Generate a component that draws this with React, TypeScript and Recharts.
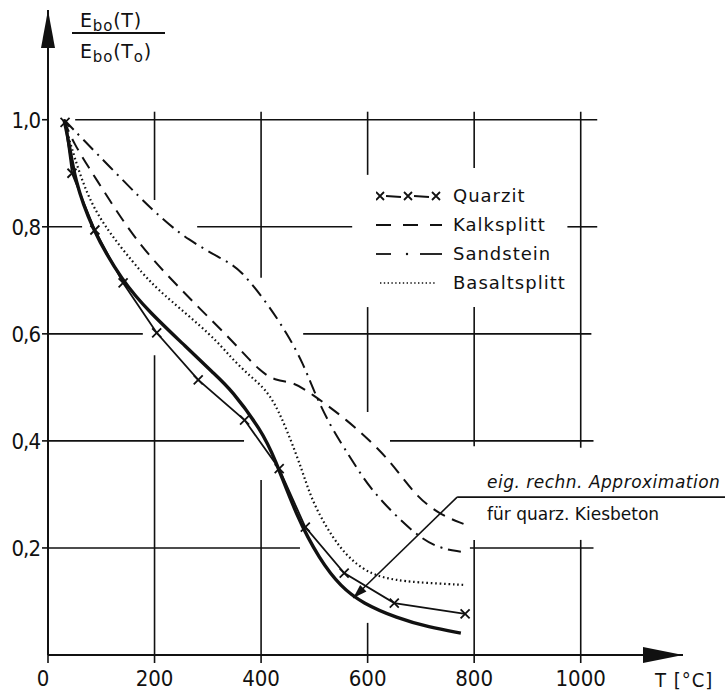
import React from 'react';
import { LineChart, Line, XAxis, YAxis, ReferenceLine, ReferenceDot, Legend } from 'recharts';

const FONT = '"DejaVu Sans", "Liberation Sans", sans-serif';
const FONT_NARROW = '"DejaVu Sans Condensed", "Liberation Sans Narrow", "DejaVu Sans", sans-serif';
const INK = '#111';

// temperature T [°C] and E_bo(T)/E_bo(T0) for each aggregate
const approxT = [30, 40, 50, 80, 140, 192, 260, 310, 345, 400, 425, 467, 510, 550, 590, 655, 715, 775];
const approxE = [1.0, 0.955, 0.89, 0.8, 0.697, 0.639, 0.575, 0.527, 0.495, 0.42, 0.37, 0.258, 0.178, 0.127, 0.097, 0.069, 0.052, 0.041];

const quarzT = [32, 45, 88, 141, 204, 282, 369, 434, 483, 556, 650, 783];
const quarzE = [0.995, 0.9, 0.794, 0.695, 0.602, 0.514, 0.439, 0.348, 0.239, 0.153, 0.097, 0.077];

const kalkT = [30, 47, 88, 160, 223, 285, 348, 400, 430, 460, 492, 561, 623, 655, 693, 736, 780];
const kalkE = [1.0, 0.957, 0.893, 0.78, 0.71, 0.647, 0.585, 0.527, 0.512, 0.51, 0.49, 0.44, 0.383, 0.345, 0.295, 0.262, 0.245];

const sandT = [30, 66, 116, 173, 210, 261, 336, 361, 411, 449, 479, 498, 530, 567, 590, 623, 686, 730, 775];
const sandE = [1.0, 0.963, 0.912, 0.854, 0.819, 0.776, 0.735, 0.72, 0.658, 0.6, 0.545, 0.495, 0.427, 0.37, 0.333, 0.29, 0.228, 0.2, 0.193];

const basaltT = [30, 41, 73, 111, 160, 192, 223, 310, 342, 380, 417, 449, 479, 498, 548, 592, 623, 655, 686, 780];
const basaltE = [1.0, 0.957, 0.857, 0.794, 0.733, 0.697, 0.668, 0.595, 0.557, 0.52, 0.49, 0.42, 0.34, 0.28, 0.196, 0.159, 0.146, 0.14, 0.136, 0.131];

const xTicks = [0, 200, 400, 600, 800, 1000];
const yTicks = [0.2, 0.4, 0.6, 0.8, 1.0];
const X_MAX = 1192;
const Y_MAX = 1.205;

// grid lines are interrupted where curves and labels cross them
const hGrid: { y: number; runs: number[][] }[] = [
  { y: 1.0, runs: [[51, 1031]] },
  { y: 0.8, runs: [[0, 64], [280, 571], [975, 1031]] },
  { y: 0.6, runs: [[0, 178], [479, 1020]] },
  { y: 0.4, runs: [[0, 368], [642, 1024]] },
  { y: 0.2, runs: [[0, 473], [792, 1024]] },
];
const vGrid: { x: number; runs: number[][] }[] = [
  { x: 200, runs: [[0.85, 1.015], [0, 0.56]] },
  { x: 400, runs: [[0.705, 1.015], [0, 0.327]] },
  { x: 600, runs: [[0.897, 1.015], [0.454, 0.65], [0, 0.06]] },
  { x: 800, runs: [[0.91, 1.015], [0.39, 0.65], [0, 0.215]] },
  { x: 1000, runs: [[0.387, 1.015], [0, 0.215]] },
];

// leader from the annotation text to the approximation curve
const leaderKnee = { t: 768, e: 0.295 };
const leaderEnd = { t: 1271, e: 0.295 };
const leaderTip = { t: 573, e: 0.1065 };

const zip = (ts: number[], es: number[]) => ts.map((t, i) => ({ t, e: es[i] }));

const approxData = zip(approxT, approxE);
const quarzData = zip(quarzT, quarzE);
const kalkData = zip(kalkT, kalkE);
const sandData = zip(sandT, sandE);
const basaltData = zip(basaltT, basaltE);

const fmtComma = (v: number) => v.toFixed(1).replace('.', ',');

const XTick = (props: any) => {
  const { x, y, payload } = props;
  return (
    <text x={payload.value === 0 ? x - 5 : x} y={y} dy={23} textAnchor="middle" fontSize={22} fontFamily={FONT_NARROW} fill={INK}>
      {payload.value}
    </text>
  );
};

const YTick = (props: any) => {
  const { x, y, payload } = props;
  return (
    <text x={x - 2} y={y} dy={8} textAnchor="end" fontSize={22} fontFamily={FONT_NARROW} fill={INK} letterSpacing={-1}>
      {fmtComma(payload.value)}
    </text>
  );
};

const CrossDot = (props: any) => {
  const { cx, cy } = props;
  if (cx == null || cy == null) return null;
  const s = 4.5;
  return (
    <path
      d={`M${cx - s},${cy - s}L${cx + s},${cy + s}M${cx + s},${cy - s}L${cx - s},${cy + s}`}
      stroke={INK}
      strokeWidth={1.8}
      fill="none"
    />
  );
};

const ArrowUp = (props: any) => {
  const { cx, cy } = props;
  return <path d={`M${cx},${cy}L${cx + 7},${cy + 38}L${cx - 7},${cy + 38}Z`} fill={INK} />;
};

const ArrowRight = (props: any) => {
  const { cx, cy } = props;
  return <path d={`M${cx},${cy}L${cx - 40},${cy - 8}L${cx - 40},${cy + 8}Z`} fill={INK} />;
};

const LeaderHead = (props: any) => {
  const { cx, cy } = props;
  const a = Math.atan2(101, -104);
  const len = 14;
  const w = 4.5;
  const bx = cx - len * Math.cos(a);
  const by = cy - len * Math.sin(a);
  const px = -Math.sin(a) * w;
  const py = Math.cos(a) * w;
  return <path d={`M${cx},${cy}L${bx + px},${by + py}L${bx - px},${by - py}Z`} fill={INK} />;
};

const legendRows = ['Quarzit', 'Kalksplitt', 'Sandstein', 'Basaltsplitt'];

const LegendSample = ({ index }: { index: number }) => {
  const common = { stroke: INK, strokeWidth: 1.8, fill: 'none' };
  if (index === 0) {
    const xs = [4, 32, 60];
    return (
      <svg width={66} height={14}>
        {xs.map((x) => (
          <path key={x} d={`M${x - 4},${3}L${x + 4},${11}M${x + 4},${3}L${x - 4},${11}`} {...common} />
        ))}
        <line x1={10} y1={7} x2={25} y2={8} {...common} />
        <line x1={38} y1={7} x2={53} y2={8} {...common} />
      </svg>
    );
  }
  if (index === 1) {
    return (
      <svg width={66} height={14}>
        <line x1={0} y1={7} x2={66} y2={7} {...common} strokeDasharray="15 12" />
      </svg>
    );
  }
  if (index === 2) {
    return (
      <svg width={66} height={14}>
        <line x1={0} y1={7} x2={15} y2={7} {...common} />
        <circle cx={31} cy={7} r={1.2} fill={INK} />
        <line x1={44} y1={7} x2={66} y2={7} {...common} />
      </svg>
    );
  }
  return (
    <svg width={66} height={14}>
      <line x1={4} y1={7} x2={60} y2={7} stroke={INK} strokeWidth={1.6} strokeDasharray="1.4 2.4" />
    </svg>
  );
};

const LegendContent = () => (
  <div style={{ fontFamily: FONT, fontSize: 18, color: INK }}>
    {legendRows.map((name, i) => (
      <div key={name} style={{ display: 'flex', alignItems: 'center', height: 29 }}>
        <LegendSample index={i} />
        <span style={{ marginLeft: 11, letterSpacing: 1 }}>{name}</span>
      </div>
    ))}
  </div>
);

export default function App() {
  return (
    <div style={{ position: 'absolute', left: 0, top: 0, width: 725, height: 691, background: '#fff' }}>
      <LineChart width={725} height={691} margin={{ top: 10, right: 42, bottom: 6, left: 8 }}>
        <XAxis
          type="number"
          dataKey="t"
          domain={[0, X_MAX]}
          ticks={xTicks}
          tick={<XTick />}
          tickSize={8}
          tickMargin={0}
          height={30}
          axisLine={{ stroke: INK, strokeWidth: 2 }}
          tickLine={{ stroke: INK, strokeWidth: 1.6 }}
          allowDataOverflow
        />
        <YAxis
          type="number"
          domain={[0, Y_MAX]}
          ticks={yTicks}
          tick={<YTick />}
          tickSize={6}
          tickMargin={0}
          width={40}
          axisLine={{ stroke: INK, strokeWidth: 2 }}
          tickLine={{ stroke: INK, strokeWidth: 1.6 }}
          allowDataOverflow
        />

        {hGrid.flatMap((g) =>
          g.runs.map(([a, b]) => (
            <ReferenceLine
              key={`h${g.y}-${a}`}
              segment={[{ x: a, y: g.y }, { x: b, y: g.y }]}
              stroke={INK}
              strokeWidth={1.6}
              ifOverflow="visible"
            />
          ))
        )}
        {vGrid.flatMap((g) =>
          g.runs.map(([a, b]) => (
            <ReferenceLine
              key={`v${g.x}-${a}`}
              segment={[{ x: g.x, y: a }, { x: g.x, y: b }]}
              stroke={INK}
              strokeWidth={1.6}
              ifOverflow="visible"
            />
          ))
        )}

        <Line
          data={kalkData}
          dataKey="e"
          name="Kalksplitt"
          type="basis"
          stroke={INK}
          strokeWidth={2}
          strokeDasharray="13 8"
          dot={false}
          activeDot={false}
          isAnimationActive={false}
        />
        <Line
          data={sandData}
          dataKey="e"
          name="Sandstein"
          type="basis"
          stroke={INK}
          strokeWidth={2}
          strokeDasharray="14 6 2 6"
          dot={false}
          activeDot={false}
          isAnimationActive={false}
        />
        <Line
          data={basaltData}
          dataKey="e"
          name="Basaltsplitt"
          type="basis"
          stroke={INK}
          strokeWidth={2.2}
          strokeDasharray="1.6 2.8"
          dot={false}
          activeDot={false}
          isAnimationActive={false}
        />
        <Line
          data={quarzData}
          dataKey="e"
          name="Quarzit"
          type="linear"
          stroke={INK}
          strokeWidth={1.8}
          dot={<CrossDot />}
          activeDot={false}
          isAnimationActive={false}
        />
        <Line
          data={approxData}
          dataKey="e"
          name="Approximation"
          type="basis"
          stroke={INK}
          strokeWidth={3.4}
          dot={false}
          activeDot={false}
          isAnimationActive={false}
        />

        <ReferenceLine
          segment={[{ x: leaderKnee.t, y: leaderKnee.e }, { x: leaderEnd.t, y: leaderEnd.e }]}
          stroke={INK}
          strokeWidth={1.6}
          ifOverflow="visible"
        />
        <ReferenceLine
          segment={[{ x: leaderKnee.t, y: leaderKnee.e }, { x: leaderTip.t, y: leaderTip.e }]}
          stroke={INK}
          strokeWidth={1.6}
          ifOverflow="visible"
        />
        <ReferenceDot x={leaderTip.t} y={leaderTip.e} shape={<LeaderHead />} ifOverflow="visible" />
        <ReferenceDot x={0} y={Y_MAX} shape={<ArrowUp />} ifOverflow="visible" />
        <ReferenceDot x={X_MAX} y={0} shape={<ArrowRight />} ifOverflow="visible" />

        <Legend
          layout="vertical"
          align="center"
          verticalAlign="middle"
          content={<LegendContent />}
          wrapperStyle={{ left: 376, top: 181, width: 220, height: 116 }}
        />
      </LineChart>

      <svg
        width={725}
        height={691}
        style={{ position: 'absolute', left: 0, top: 0, pointerEvents: 'none' }}
        fontFamily={FONT}
        fill={INK}
      >
        <text x={80} y={27} fontSize={19} letterSpacing={0.8}>
          E<tspan fontSize={15} dy={4}>bo</tspan>
          <tspan dy={-4}>(T)</tspan>
        </text>
        <line x1={72} y1={33} x2={165} y2={33} stroke={INK} strokeWidth={1.8} />
        <text x={80} y={58} fontSize={19} letterSpacing={0.8}>
          E<tspan fontSize={15} dy={4}>bo</tspan>
          <tspan dy={-4}>(T</tspan>
          <tspan fontSize={15} dy={4}>o</tspan>
          <tspan dy={-4}>)</tspan>
        </text>
        <text x={655} y={687} fontSize={20} fontFamily={FONT_NARROW} letterSpacing={1}>
          T [°C]
        </text>
        <text x={487} y={488} fontSize={17} fontStyle="italic" letterSpacing={0.5}>
          eig. rechn. Approximation
        </text>
        <text x={487} y={520} fontSize={17}>
          für quarz. Kiesbeton
        </text>
      </svg>
    </div>
  );
}
